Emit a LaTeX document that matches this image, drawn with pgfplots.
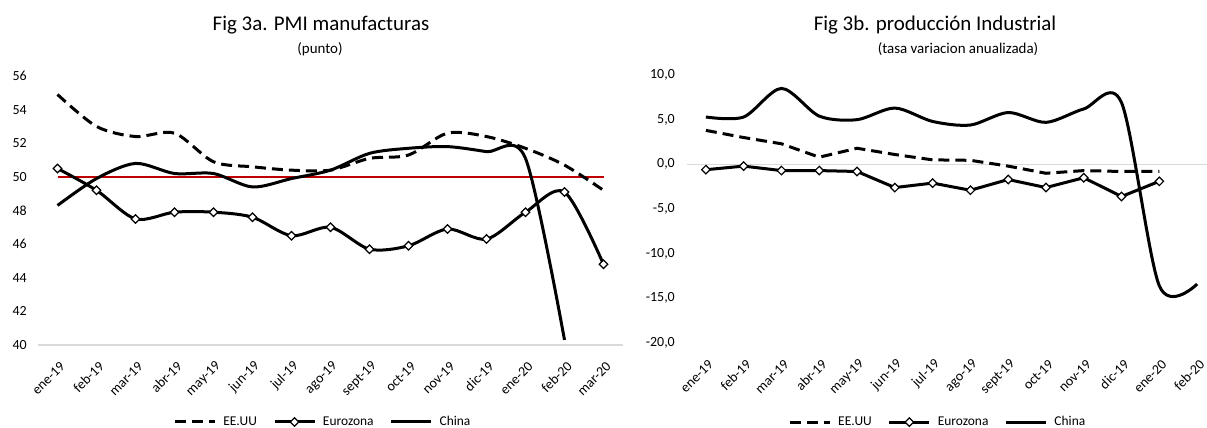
\documentclass[border=0pt]{standalone}
\usepackage{fontspec}
\setmainfont{Carlito}
\usepackage{pgfplots}
\pgfplotsset{compat=1.18}

\definecolor{refred}{RGB}{192,0,0}
\definecolor{axisgray}{RGB}{217,217,217}

\pgfplotsset{
  panel/.style={
    scale only axis,
    clip=false,
    axis x line*=bottom,
    axis y line*=left,
    axis line style={draw=none},
    tick style={draw=none},
    tick label style={font=\fontsize{14}{16}\selectfont},
    /pgf/number format/assume math mode=true,
    yticklabel style={inner sep=0pt, anchor=east},
    xticklabel style={inner sep=0pt, anchor=east, xshift=5bp, yshift=-19bp, rotate=45},
    legend style={
      draw=none, fill=none,
      font=\fontsize{13.5}{16}\selectfont,
      legend columns=-1,
      anchor=center,
      /tikz/every odd column/.append style={column sep=5bp},
      /tikz/every even column/.append style={column sep=14bp}
    },
    legend image code/.code={%
      \draw[mark repeat=2, mark phase=2, #1]
        plot coordinates {(0bp,0bp) (20bp,0bp) (40bp,0bp)};},
  },
  us/.style={black, line width=3bp, dash pattern=on 11bp off 6bp, no markers},
  ez/.style={black, line width=3bp, mark=square*, mark size=3bp,
    mark options={rotate=45, fill=white, draw=black, line width=1.2bp, solid}},
  cn/.style={black, line width=3bp, no markers},
}

\begin{document}
\begin{tikzpicture}
\useasboundingbox (0,0) rectangle (1207bp,-428bp);

% titles
\node[anchor=base, font=\fontsize{21}{25}\selectfont] at (321bp,-30bp) {Fig 3a. PMI manufacturas};
\node[anchor=base, font=\fontsize{15}{18}\selectfont] at (320bp,-53bp) {(punto)};
\node[anchor=base, font=\fontsize{21}{25}\selectfont] at (935bp,-30bp) {Fig 3b. producción Industrial};
\node[anchor=base, font=\fontsize{15}{18}\selectfont] at (958bp,-53bp) {(tasa variacion anualizada)};

% left: PMI
\begin{axis}[panel,
  at={(38bp,-345bp)}, anchor=south west,
  width=585bp, height=269bp,
  xmin=-0.5, xmax=14.5, ymin=40, ymax=56,
  ytick={40,42,...,56},
  yticklabel style={xshift=-11bp},
  xtick={0,...,14},
  xticklabels={ene-19,feb-19,mar-19,abr-19,may-19,jun-19,jul-19,ago-19,sept-19,oct-19,nov-19,dic-19,ene-20,feb-20,mar-20},
  legend style={at={(0.487,-0.286)}},
]
\addplot[axisgray, line width=1.5bp, forget plot] coordinates {(-0.5,40) (14.5,40)};
\addplot[refred, line width=2bp, forget plot] coordinates {(0,50) (14,50)};

\addplot[us, smooth] coordinates {
  (0,54.9) (1,53.0) (2,52.4) (3,52.6) (4,50.9) (5,50.6) (6,50.4) (7,50.4)
  (8,51.1) (9,51.3) (10,52.6) (11,52.4) (12,51.7) (13,50.7) (14,49.2)};
\addlegendentry{EE.UU}

\addplot[ez, smooth] coordinates {
  (0,50.5) (1,49.2) (2,47.5) (3,47.9) (4,47.9) (5,47.6) (6,46.5) (7,47.0)
  (8,45.7) (9,45.9) (10,46.9) (11,46.3) (12,47.9) (13,49.1) (14,44.8)};
\addlegendentry{Eurozona}

\addplot[cn, smooth] coordinates {
  (0,48.3) (1,49.9) (2,50.8) (3,50.2) (4,50.2) (5,49.4) (6,49.9) (7,50.4)
  (8,51.4) (9,51.7) (10,51.8) (11,51.5) (12,51.1) (13,40.3)};
\addlegendentry{China}
\end{axis}

% right: produccion industrial
\begin{axis}[panel,
  at={(687bp,-343bp)}, anchor=south west,
  width=529bp, height=268bp,
  xmin=-0.5, xmax=13.5, ymin=-20, ymax=10,
  ytick={-20,-15,...,10},
  yticklabels={{-20,0},{-15,0},{-10,0},{-5,0},{0,0},{5,0},{10,0}},
  yticklabel style={xshift=-12bp},
  xtick={0,...,13},
  xticklabels={ene-19,feb-19,mar-19,abr-19,may-19,jun-19,jul-19,ago-19,sept-19,oct-19,nov-19,dic-19,ene-20,feb-20},
  legend style={at={(0.474,-0.295)}},
]
\addplot[axisgray, line width=1.5bp, forget plot] coordinates {(-0.5,0) (13.5,0)};

\addplot[us] coordinates {
  (0,3.8) (1,3.0) (2,2.3) (3,0.8) (4,1.8) (5,1.1) (6,0.5) (7,0.45)
  (8,-0.2) (9,-1.0) (10,-0.7) (11,-0.8) (12,-0.8)};
\addlegendentry{EE.UU}

\addplot[ez] coordinates {
  (0,-0.6) (1,-0.2) (2,-0.7) (3,-0.7) (4,-0.8) (5,-2.6) (6,-2.1) (7,-2.9)
  (8,-1.7) (9,-2.6) (10,-1.5) (11,-3.6) (12,-1.9)};
\addlegendentry{Eurozona}

\addplot[cn, smooth] coordinates {
  (0,5.3) (1,5.3) (2,8.5) (3,5.4) (4,5.0) (5,6.3) (6,4.8) (7,4.4)
  (8,5.8) (9,4.7) (10,6.2) (11,6.9) (12,-13.6) (13,-13.4)};
\addlegendentry{China}
\end{axis}
\end{tikzpicture}
\end{document}
